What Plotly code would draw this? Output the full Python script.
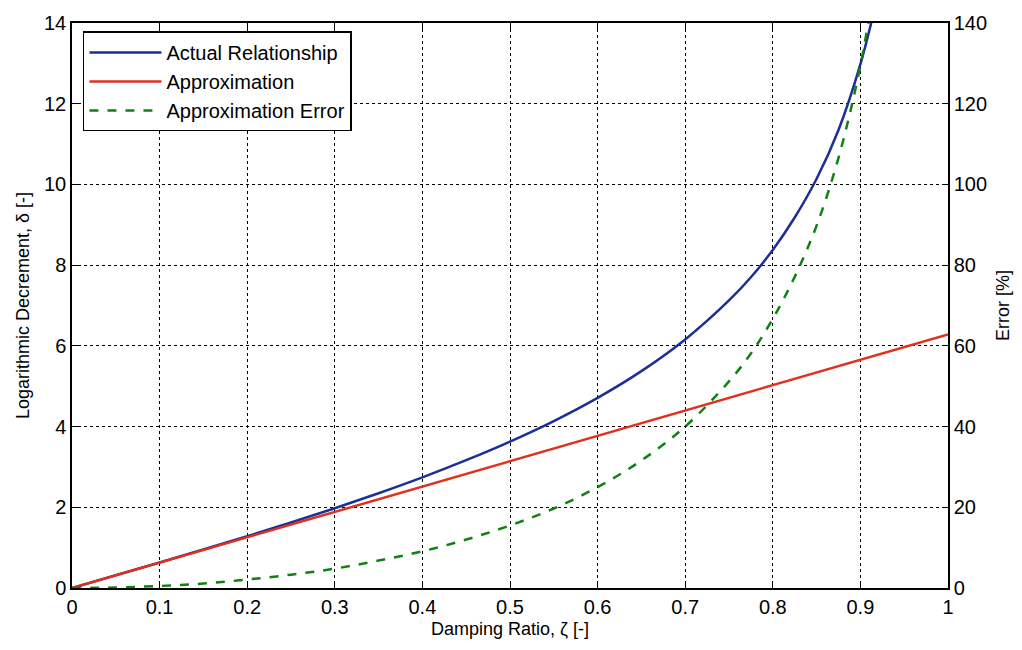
import plotly.graph_objects as go

# Damping ratio samples
zeta = [0, 0.05, 0.1, 0.15, 0.2, 0.25, 0.3, 0.35, 0.4, 0.45, 0.5, 0.55, 0.6,
        0.65, 0.7, 0.75, 0.775, 0.8, 0.825, 0.85, 0.875, 0.9, 0.92]

# Logarithmic decrement (actual relationship)
delta_actual = [0, 0.315, 0.632, 0.953, 1.283, 1.622, 1.976, 2.348, 2.742,
                3.167, 3.628, 4.137, 4.712, 5.374, 6.159, 7.125, 7.70, 8.378,
                9.18, 10.14, 11.35, 12.98, 14.7]

# Linear approximation
zeta_approx = [0, 0.25, 0.5, 0.75, 1.0]
delta_approx = [0, 1.571, 3.142, 4.712, 6.283]

# Approximation error in percent
error_pct = [0, 0.13, 0.5, 1.1, 2.1, 3.3, 4.8, 6.8, 9.1, 12.0, 15.5, 19.7,
             25.0, 31.6, 40.0, 51.2, 58.1, 66.7, 77.1, 89.8, 106.6, 129.4, 155.0]

FONT = "Liberation Sans, Arial, Helvetica, sans-serif"
BLUE = "#1b2f96"
RED = "#e0301e"
GREEN = "#0f820f"

fig = go.Figure()
fig.add_trace(go.Scatter(x=zeta, y=delta_actual, mode="lines",
                         name="Actual Relationship", legendgroup="a",
                         line=dict(color=BLUE, width=2.5, shape="spline")))
fig.add_trace(go.Scatter(x=zeta_approx, y=delta_approx, mode="lines",
                         name="Approximation", legendgroup="b",
                         line=dict(color=RED, width=2.5)))
fig.add_trace(go.Scatter(x=zeta, y=error_pct, mode="lines",
                         name="Approximation Error", yaxis="y2", legendgroup="c",
                         line=dict(color=GREEN, width=2.5, dash="dash",
                                   shape="spline")))

axis_common = dict(
    showline=True, linecolor="black", linewidth=1.5,
    ticks="inside", ticklen=6, tickwidth=1, tickcolor="black",
    tickfont=dict(family=FONT, size=20, color="black"),
    zeroline=False,
)

fig.update_layout(
    width=1022, height=650,
    margin=dict(l=72, r=73, t=20, b=62),
    paper_bgcolor="white", plot_bgcolor="white",
    font=dict(family=FONT, color="black"),
    xaxis=dict(range=[0, 1], dtick=0.1, tickformat="~g", mirror="ticks",
               showgrid=True, gridcolor="black", gridwidth=1, griddash="dot",
               title=dict(text="Damping Ratio, ζ [-]", standoff=6,
                          font=dict(family=FONT, size=18)),
               **axis_common),
    yaxis=dict(range=[0, 14], dtick=2, mirror=True,
               showgrid=True, gridcolor="black", gridwidth=1, griddash="dot",
               title=dict(text="Logarithmic Decrement, δ [-]", standoff=10,
                          font=dict(family=FONT, size=18)),
               **axis_common),
    yaxis2=dict(range=[0, 140], dtick=20, overlaying="y", side="right",
                showgrid=False,
                title=dict(text="Error [%]", standoff=10,
                           font=dict(family=FONT, size=18)),
                **axis_common),
    legend=dict(x=0.0125, y=0.985, xanchor="left", yanchor="top",
                bgcolor="white", bordercolor="black", borderwidth=1.5,
                font=dict(family=FONT, size=20), itemwidth=72,
                tracegroupgap=0),
    showlegend=True,
)

fig.write_html("out.html")
